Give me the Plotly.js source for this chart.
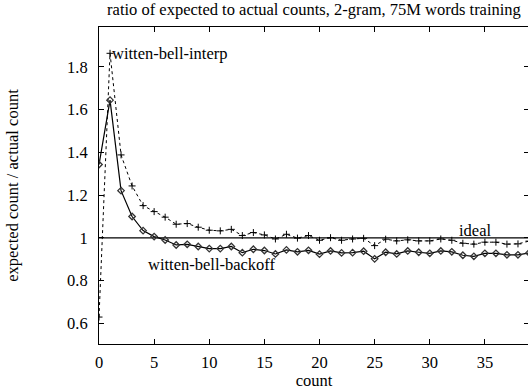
<!DOCTYPE html>
<html>
<head>
<meta charset="utf-8">
<script src="https://cdn.plot.ly/plotly-3.0.1.min.js"></script>
<style>
html,body{margin:0;padding:0;overflow:hidden;background:#fff;width:528px;height:390px;}
#chart{width:530px;height:390px;}
</style>
</head>
<body>
<div id="chart"></div>
<script>
const counts = [0,1,2,3,4,5,6,7,8,9,10,11,12,13,14,15,16,17,18,19,20,21,22,23,24,25,26,27,28,29,30,31,32,33,34,35,36,37,38,39];
const interp = [0.63, 1.863, 1.388, 1.243, 1.151, 1.123, 1.097, 1.064, 1.067, 1.050, 1.036, 1.033, 1.040, 1.011, 1.025, 1.014, 0.995, 1.017, 0.999, 1.011, 0.989, 1.001, 0.989, 0.995, 0.998, 0.964, 0.994, 0.986, 0.991, 0.986, 0.986, 0.995, 0.989, 0.975, 0.971, 0.980, 0.980, 0.971, 0.972, 0.985];
const backoff = [1.343, 1.644, 1.221, 1.100, 1.034, 1.006, 0.990, 0.967, 0.970, 0.960, 0.950, 0.950, 0.960, 0.931, 0.947, 0.941, 0.925, 0.944, 0.935, 0.942, 0.924, 0.939, 0.930, 0.931, 0.938, 0.902, 0.933, 0.925, 0.939, 0.933, 0.928, 0.939, 0.935, 0.919, 0.914, 0.928, 0.928, 0.921, 0.921, 0.930];
const idealX = [0, 39];
const idealY = [1, 1];
const yTicks = [0.6, 0.8, 1, 1.2, 1.4, 1.6, 1.8];
const xTicks = [0, 5, 10, 15, 20, 25, 30, 35];
const labels = {
  title: 'ratio of expected to actual counts, 2-gram, 75M words training',
  xTitle: 'count',
  yTitle: 'expected count / actual count',
  interp: 'witten-bell-interp',
  backoff: 'witten-bell-backoff',
  ideal: 'ideal'
};

const FONT = 'Liberation Serif, Times New Roman, serif';
const FS = 16.5;

const traces = [
  {x: idealX, y: idealY, mode: 'lines', line: {color: '#000', width: 1.2}, hoverinfo: 'skip'},
  {x: counts, y: interp, mode: 'lines+markers',
   line: {color: '#000', width: 1, dash: '3px,3px'},
   marker: {symbol: 'cross-thin-open', size: 5, line: {color: '#000', width: 1}}},
  {x: counts, y: backoff, mode: 'lines+markers',
   line: {color: '#000', width: 1.2},
   marker: {symbol: 'diamond-open', size: 5, color: '#333', line: {color: '#222', width: 1.3}}}
];

const layout = {
  width: 530, height: 390,
  margin: {l: 99, r: 1, t: 27, b: 46},
  paper_bgcolor: '#fff', plot_bgcolor: '#fff',
  showlegend: false,
  font: {family: FONT, size: FS, color: '#000'},
  title: {text: labels.title, font: {family: FONT, size: FS, color: '#000'},
          x: 0.5, xref: 'paper', y: 0.976, yref: 'container', yanchor: 'middle'},
  xaxis: {range: [0, 39], tickvals: xTicks, ticks: 'inside', ticklen: 5, tickcolor: '#000',
          showline: true, linecolor: '#000', linewidth: 1, mirror: 'ticks',
          showgrid: false, zeroline: false, ticklabelstandoff: 3,
          tickfont: {family: FONT, size: FS, color: '#000'},
          title: {text: labels.xTitle, font: {family: FONT, size: FS, color: '#000'}, standoff: 0}},
  yaxis: {range: [0.504, 1.986], tickvals: yTicks, ticks: 'inside', ticklen: 5, tickcolor: '#000',
          showline: true, linecolor: '#000', linewidth: 1, mirror: 'ticks',
          showgrid: false, zeroline: false, ticklabelstandoff: 7,
          tickfont: {family: FONT, size: FS, color: '#000'},
          title: {text: labels.yTitle, font: {family: FONT, size: FS, color: '#000'}, standoff: 44}},
  annotations: [
    {x: 1, y: 1.863, xref: 'x', yref: 'y', text: labels.interp, showarrow: false,
     xanchor: 'left', yanchor: 'middle', xshift: 0, font: {family: FONT, size: FS, color: '#000'}},
    {x: 16.2, y: 0.874, xref: 'x', yref: 'y', text: labels.backoff, showarrow: false,
     xanchor: 'right', yanchor: 'middle', font: {family: FONT, size: FS, color: '#000'}},
    {x: 35.7, y: 1.033, xref: 'x', yref: 'y', text: labels.ideal, showarrow: false,
     xanchor: 'right', yanchor: 'middle', font: {family: FONT, size: FS, color: '#000'}}
  ]
};

Plotly.newPlot('chart', traces, layout, {displayModeBar: false, staticPlot: true});
</script>
</body>
</html>
